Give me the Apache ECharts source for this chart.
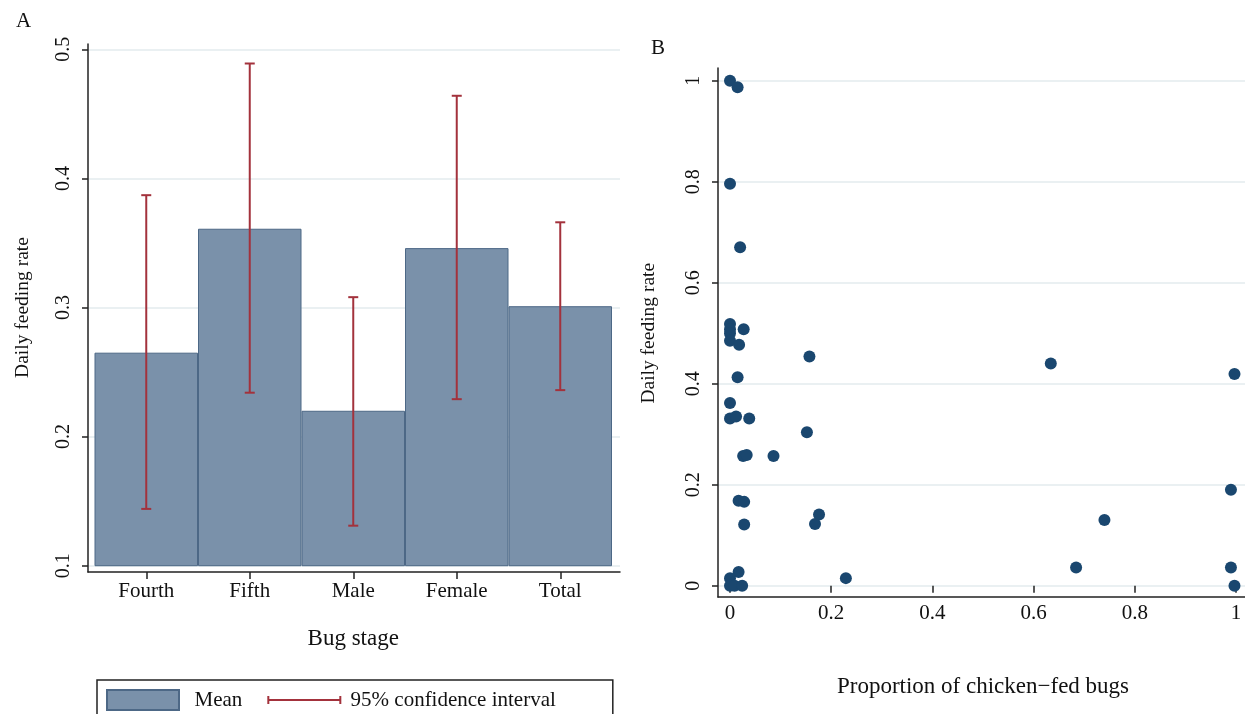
<!DOCTYPE html>
<html>
<head>
<meta charset="utf-8">
<script src="https://cdn.jsdelivr.net/npm/echarts@6/dist/echarts.min.js"></script>
<style>
html,body{margin:0;padding:0;background:#fff;}
#chart{width:1245px;height:714px;}
</style>
</head>
<body>
<div id="chart"></div>
<script>
// ---- Panel A data ----
const stages = ['Fourth', 'Fifth', 'Male', 'Female', 'Total'];
const meanRate = [0.265, 0.361, 0.220, 0.346, 0.301];
const ciLower = [0.144, 0.234, 0.131, 0.229, 0.236];
const ciUpper = [0.387, 0.489, 0.308, 0.464, 0.366];
const yTicksA = [0.1, 0.2, 0.3, 0.4, 0.5];

// ---- Panel B data ----
const propChickenFed = [0, 0.015, 0, 0.02, 0, 0, 0, 0, 0.027, 0.018, 0.157, 0.015,
  0, 0, 0.012, 0.038, 0.152, 0.026, 0.033, 0.086, 0.017, 0.028, 0.028, 0.176, 0.168,
  0.017, 0, 0.229, 0, 0.009, 0.024, 0.634, 0.997, 0.990, 0.740, 0.684, 0.990, 0.997];
const dailyFeedingRate = [1.0, 0.987, 0.796, 0.670, 0.518, 0.508, 0.500, 0.485, 0.508, 0.477, 0.454, 0.413,
  0.362, 0.331, 0.335, 0.331, 0.304, 0.257, 0.259, 0.257, 0.168, 0.166, 0.121, 0.141, 0.122,
  0.027, 0.015, 0.015, 0, 0, 0, 0.440, 0.419, 0.190, 0.130, 0.036, 0.036, 0];
const ticksB = [0, 0.2, 0.4, 0.6, 0.8, 1];

const FONT = 'Liberation Serif';
const TXT = '#111';
const AXIS = '#222';
const GRIDC = '#e3ebee';
const BAR = '#7a91aa';
const BARB = '#4d6886';
const CI = '#a3323c';
const DOT = '#1a476f';
const fmt = v => String(Math.round(v * 10) / 10);

const chart = echarts.init(document.getElementById('chart'), null, {renderer: 'canvas'});

const lineOnly = (gi) => ({
  gridIndex: gi, type: 'value', min: 0, max: 1,
  axisLine: {show: true, lineStyle: {color: AXIS, width: 1.5}},
  axisTick: {show: false}, axisLabel: {show: false}, splitLine: {show: false}
});

const option = {
  animation: false,
  backgroundColor: '#fff',
  title: [
    {text: 'A', left: 11, top: 6, textStyle: {fontFamily: FONT, fontSize: 21, fontWeight: 'normal', color: TXT}},
    {text: 'B', left: 646, top: 33, textStyle: {fontFamily: FONT, fontSize: 21, fontWeight: 'normal', color: TXT}}
  ],
  grid: [
    {left: 88, top: 44, width: 532, height: 528},          // A axis lines
    {left: 88, top: 49.3, width: 532, height: 516.4},      // A y labels / grid lines
    {left: 94.5, top: 49.3, width: 517.5, height: 516.4},  // A bars
    {left: 718, top: 68, width: 527, height: 529},         // B axis lines
    {left: 718, top: 80.7, width: 527, height: 505},       // B y labels / grid lines
    {left: 730, top: 80.7, width: 506, height: 505}        // B points
  ],
  xAxis: [
    lineOnly(0),
    {gridIndex: 1, type: 'value', show: false, min: 0, max: 1},
    {
      gridIndex: 2, type: 'category', data: stages, offset: 6.3,
      axisLine: {show: false},
      axisTick: {show: true, alignWithLabel: true, length: 7, lineStyle: {color: AXIS, width: 1.5}},
      axisLabel: {fontFamily: FONT, fontSize: 21, color: TXT, margin: 9},
      splitLine: {show: false},
      name: 'Bug stage', nameLocation: 'middle', nameGap: 55,
      nameTextStyle: {fontFamily: FONT, fontSize: 23, color: TXT}
    },
    lineOnly(3),
    {gridIndex: 4, type: 'value', show: false, min: 0, max: 1},
    {
      gridIndex: 5, type: 'value', min: 0, max: 1, interval: 0.2, offset: 11.4,
      axisLine: {show: false},
      axisTick: {show: true, length: 7, lineStyle: {color: AXIS, width: 1.5}},
      axisLabel: {fontFamily: FONT, fontSize: 21, color: TXT, margin: 6, formatter: fmt},
      splitLine: {show: false},
      name: 'Proportion of chicken\u2212fed bugs', nameLocation: 'middle', nameGap: 78,
      nameTextStyle: {fontFamily: FONT, fontSize: 23, color: TXT}
    }
  ],
  yAxis: [
    lineOnly(0),
    {
      gridIndex: 1, type: 'value', min: yTicksA[0], max: yTicksA[yTicksA.length - 1], interval: 0.1,
      axisLine: {show: false},
      axisTick: {show: true, length: 6, lineStyle: {color: AXIS, width: 1.5}},
      axisLabel: {fontFamily: FONT, fontSize: 20, color: TXT, rotate: 90, margin: 14, formatter: fmt},
      splitLine: {show: true, lineStyle: {color: GRIDC, width: 1.5}},
      name: 'Daily feeding rate', nameLocation: 'middle', nameRotate: 90, nameGap: 55,
      nameTextStyle: {fontFamily: FONT, fontSize: 19.5, color: TXT}
    },
    {gridIndex: 2, type: 'value', show: false, min: yTicksA[0], max: yTicksA[yTicksA.length - 1]},
    lineOnly(3),
    {
      gridIndex: 4, type: 'value', min: ticksB[0], max: ticksB[ticksB.length - 1], interval: 0.2,
      axisLine: {show: false},
      axisTick: {show: true, length: 6, lineStyle: {color: AXIS, width: 1.5}},
      axisLabel: {fontFamily: FONT, fontSize: 20, color: TXT, rotate: 90, margin: 14, formatter: fmt},
      splitLine: {show: true, lineStyle: {color: GRIDC, width: 1.5}},
      name: 'Daily feeding rate', nameLocation: 'middle', nameRotate: 90, nameGap: 59,
      nameTextStyle: {fontFamily: FONT, fontSize: 19.5, color: TXT}
    },
    {gridIndex: 5, type: 'value', show: false, min: ticksB[0], max: ticksB[ticksB.length - 1]}
  ],
  legend: {
    left: 97, top: 680,
    padding: [9, 57, 20, 9],
    borderColor: AXIS, borderWidth: 1.5,
    itemWidth: 72, itemHeight: 20, itemGap: 25,
    textStyle: {fontFamily: FONT, fontSize: 21, color: TXT},
    formatter: n => (n === 'Mean' ? '  ' + n : ' ' + n),
    data: [
      {name: 'Mean', icon: 'rect'},
      {
        name: '95% confidence interval',
        icon: 'path://M0,0 M0,6 L0,14 M0,10 L72,10 M72,6 L72,14 M72,20',
        itemStyle: {color: 'transparent', borderColor: CI, borderWidth: 2}
      }
    ]
  },
  series: [
    {
      name: 'Mean', type: 'bar', xAxisIndex: 2, yAxisIndex: 2,
      data: meanRate, barWidth: '100%', barCategoryGap: 0,
      itemStyle: {color: BAR, borderColor: BARB, borderWidth: 1}
    },
    {
      name: '95% confidence interval', type: 'custom', xAxisIndex: 2, yAxisIndex: 2,
      data: stages.map((s, i) => [i, ciLower[i], ciUpper[i]]),
      encode: {x: 0, y: [1, 2]},
      itemStyle: {color: CI},
      z: 5,
      renderItem: function (params, api) {
        const i = api.value(0);
        const lo = api.coord([i, api.value(1)]);
        const hi = api.coord([i, api.value(2)]);
        const cap = 5;
        const style = {stroke: CI, lineWidth: 2, fill: null};
        return {
          type: 'group',
          children: [
            {type: 'line', shape: {x1: lo[0], y1: lo[1], x2: hi[0], y2: hi[1]}, style: style},
            {type: 'line', shape: {x1: hi[0] - cap, y1: hi[1], x2: hi[0] + cap, y2: hi[1]}, style: style},
            {type: 'line', shape: {x1: lo[0] - cap, y1: lo[1], x2: lo[0] + cap, y2: lo[1]}, style: style}
          ]
        };
      }
    },
    {
      name: 'points', type: 'scatter', xAxisIndex: 5, yAxisIndex: 5,
      data: propChickenFed.map((x, i) => [x, dailyFeedingRate[i]]),
      symbol: 'circle', symbolSize: 12, clip: false,
      itemStyle: {color: DOT, opacity: 1}
    }
  ]
};
chart.setOption(option);
</script>
</body>
</html>
